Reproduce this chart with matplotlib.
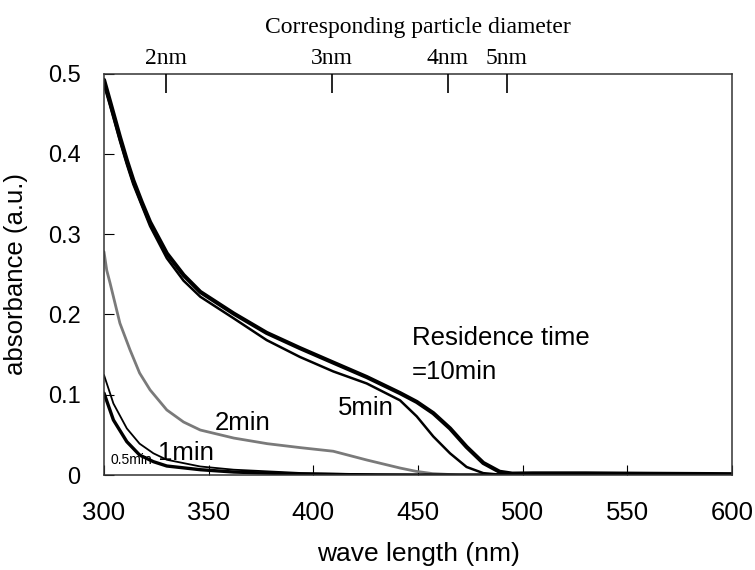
import matplotlib
matplotlib.use("Agg")
import matplotlib.pyplot as plt

# ---- data ----
wl_10 = [300, 302.9, 307.6, 310.9, 314, 318, 322, 330, 338, 346, 362, 377.7, 393.6, 409.5, 425.5,
         441.4, 449.4, 457.3, 465.3, 473.2, 481.2, 489, 495, 505, 530, 560, 600]
abs_10 = [0.492, 0.465, 0.421, 0.392, 0.367, 0.340, 0.315, 0.276, 0.249, 0.228, 0.201, 0.177, 0.158,
          0.140, 0.122, 0.102, 0.091, 0.077, 0.058, 0.035, 0.015, 0.004, 0.0017, 0.002, 0.002,
          0.0015, 0.001]

wl_5 = [300, 302.9, 307.6, 310.9, 314, 318, 322, 330, 338, 346, 362, 377.7, 393.6, 409.5, 425.5,
        441.4, 449.4, 457.3, 465.3, 473.2, 481.2, 489, 500, 600]
abs_5 = [0.486, 0.460, 0.416, 0.387, 0.362, 0.336, 0.310, 0.270, 0.242, 0.222, 0.195, 0.168, 0.147,
         0.129, 0.114, 0.093, 0.073, 0.048, 0.027, 0.010, 0.0023, 0.0005, 0.0, 0.0]

wl_2 = [300, 301.3, 302.9, 307.6, 312.4, 317, 322, 330, 338, 346, 362, 378, 394, 409.5, 425.5,
        441.4, 449, 457, 470, 600]
abs_2 = [0.278, 0.255, 0.239, 0.189, 0.156, 0.127, 0.106, 0.081, 0.066, 0.056, 0.046, 0.039, 0.034,
         0.0296, 0.0187, 0.0087, 0.0046, 0.0017, 0.0, 0.0]

wl_1 = [300, 304.5, 310.9, 317, 323.6, 330, 346, 362, 394, 425, 460, 600]
abs_1 = [0.1245, 0.089, 0.058, 0.039, 0.027, 0.019, 0.0106, 0.0066, 0.0025, 0.001, 0.0, 0.0]

wl_05 = [300, 304.5, 310.9, 317, 323.6, 330, 346, 362, 394, 430, 600]
abs_05 = [0.102, 0.0685, 0.0415, 0.0249, 0.0166, 0.0112, 0.0066, 0.0037, 0.001, 0.0, 0.0]

x_ticks = [300, 350, 400, 450, 500, 550, 600]
y_ticks = [0, 0.1, 0.2, 0.3, 0.4, 0.5]
y_tick_labels = ["0", "0.1", "0.2", "0.3", "0.4", "0.5"]
diam_pos = [329.6, 408.9, 464.3, 492.5]
diam_labels = ["2nm", "3nm", "4nm", "5nm"]

# ---- figure ----
fig = plt.figure(figsize=(7.55, 5.70), dpi=100)
ax = fig.add_axes([104/755, 1-475/570, (732-104)/755, (475-73.5)/570])

kw = dict(solid_joinstyle="round", solid_capstyle="round")
ax.plot(wl_2, abs_2, color="#7a7a7a", lw=2.0, **kw)
ax.plot(wl_05, abs_05, color="black", lw=2.4, **kw)
ax.plot(wl_1, abs_1, color="black", lw=1.3, **kw)
ax.plot(wl_5, abs_5, color="black", lw=1.8, **kw)
ax.plot(wl_10, abs_10, color="black", lw=3.0, **kw)

ax.set_xlim(300, 600)
ax.set_ylim(0, 0.5)

sans = "Liberation Sans"
serif = "Liberation Serif"

ax.set_xticks(x_ticks)
ax.set_xticklabels([str(v) for v in x_ticks], fontfamily=sans, fontsize=18.5)
ax.set_yticks(y_ticks)
ax.set_yticklabels(y_tick_labels, fontfamily=sans, fontsize=17)
ax.tick_params(axis="x", direction="in", length=7, pad=19, width=0.8)
ax.tick_params(axis="y", direction="in", length=7, pad=17, width=0.8)

for s in ax.spines.values():
    s.set_color("#333333")
    s.set_linewidth(1.1)

ax.set_xlabel("wave length (nm)", fontfamily=sans, fontsize=19, labelpad=12)
ax.set_ylabel("absorbance (a.u.)", fontfamily=sans, fontsize=18.5, labelpad=14)

# top axis: corresponding particle diameter
ax2 = ax.twiny()
ax2.set_xlim(ax.get_xlim())
ax2.set_xticks(diam_pos)
ax2.set_xticklabels(diam_labels, fontfamily=serif, fontsize=17)
ax2.tick_params(axis="x", direction="in", length=14, pad=3, width=1.2)
for s in ax2.spines.values():
    s.set_visible(False)
fig.text(418/755, 1-27/570, "Corresponding particle diameter", fontfamily=serif,
         fontsize=17, ha="center", va="center")

# annotations
fs = 18.5
ax.text(447.2, 0.1706, "Residence time", fontfamily=sans, fontsize=fs, ha="left", va="center")
ax.text(447.2, 0.128, "=10min", fontfamily=sans, fontsize=fs, ha="left", va="center")
ax.text(411.8, 0.083, "5min", fontfamily=sans, fontsize=fs, ha="left", va="center")
ax.text(353.0, 0.065, "2min", fontfamily=sans, fontsize=fs, ha="left", va="center")
ax.text(325.8, 0.027, "1min", fontfamily=sans, fontsize=fs, ha="left", va="center")
ax.text(302.9, 0.019, "0.5min", fontfamily=sans, fontsize=10, ha="left", va="center")

fig.savefig("out.png", dpi=100)
